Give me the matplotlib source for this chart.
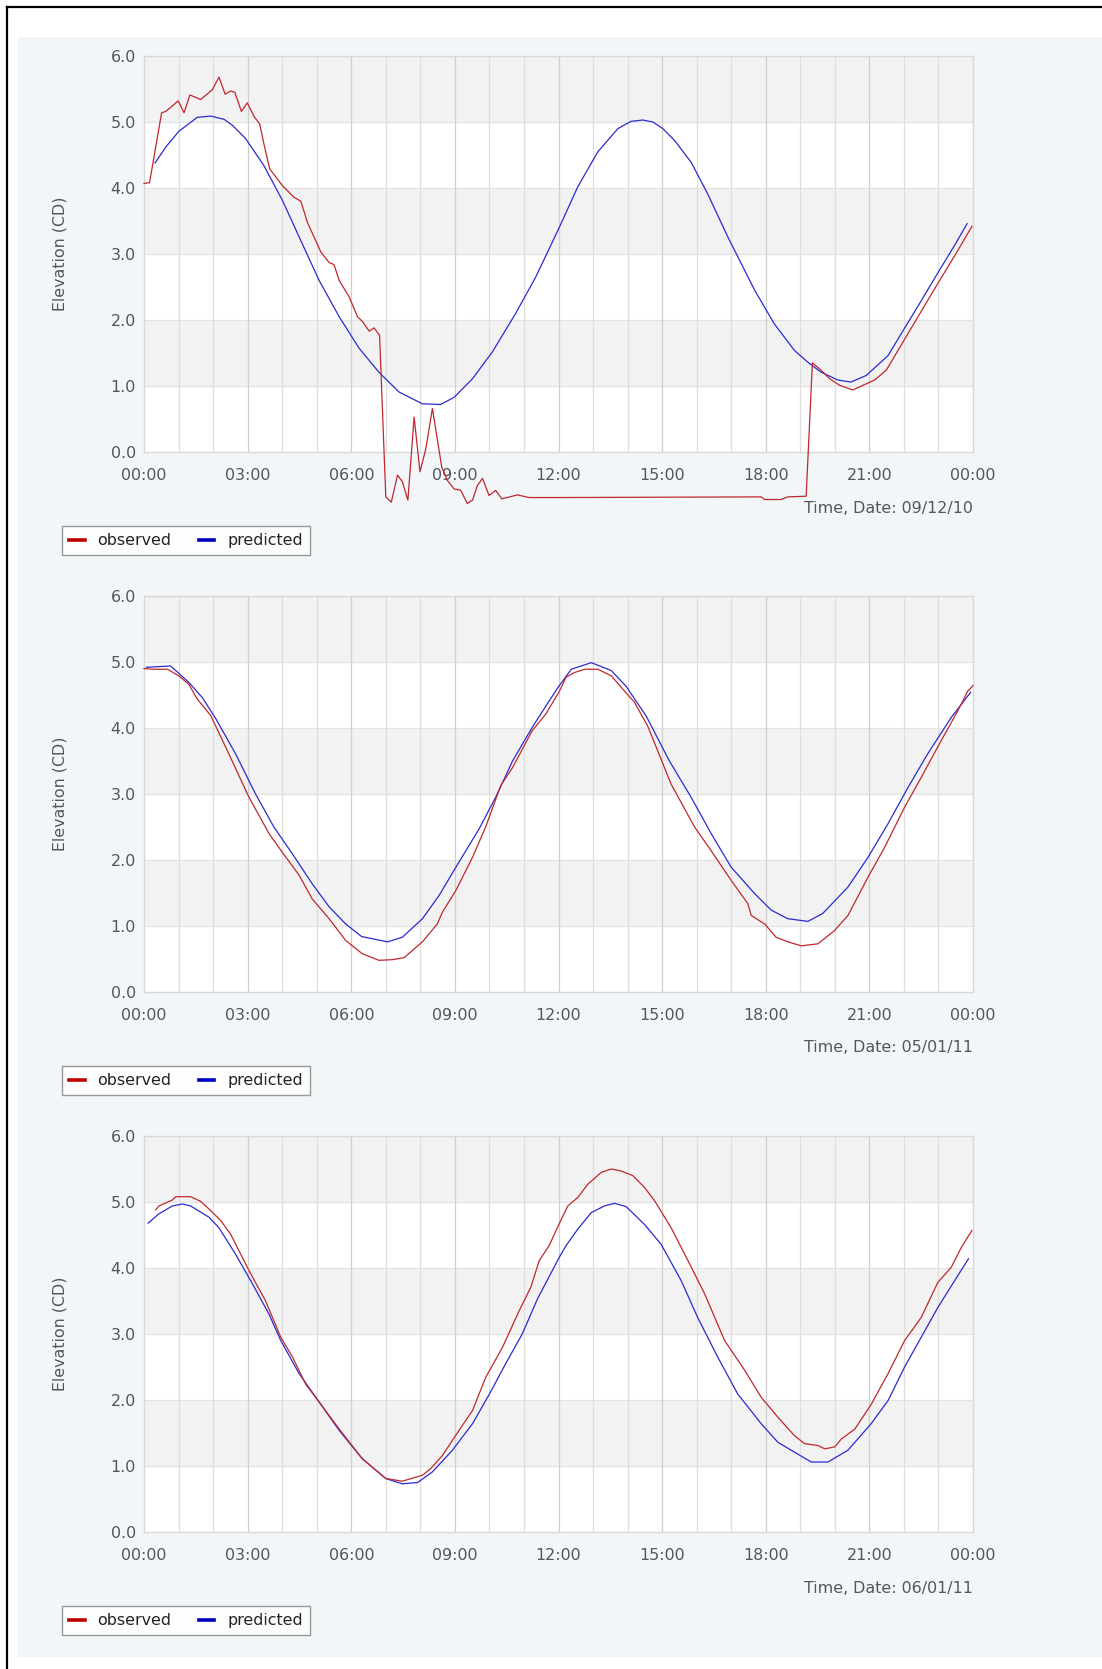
import matplotlib

matplotlib.use("Agg")
import matplotlib.pyplot as plt
from matplotlib.lines import Line2D
from matplotlib.patches import Rectangle

plt.rcParams["font.family"] = ["DejaVu Sans"]

W, H, DPI = 1102, 1669, 100
FS = 11.4

RED = "#c0272d"
BLUE = "#2a2ad0"
TEXT = "#555555"

TICK_HOURS = [0, 3, 6, 9, 12, 15, 18, 21, 24]
TICK_LABELS = ["00:00", "03:00", "06:00", "09:00", "12:00", "15:00", "18:00", "21:00", "00:00"]
Y_TICKS = [0.0, 1.0, 2.0, 3.0, 4.0, 5.0, 6.0]
DATES = ["09/12/10", "05/01/11", "06/01/11"]

# --- 09/12/10 ---
obs1_h = [0.0, 0.16, 0.51, 0.63, 0.99, 1.16, 1.33, 1.64, 1.98, 2.17, 2.35, 2.51, 2.63,
          2.82, 2.99, 3.19, 3.35, 3.47, 3.64, 4.0, 4.34, 4.54, 4.73, 5.12, 5.36, 5.5,
          5.65, 5.94, 6.18, 6.32, 6.52, 6.66, 6.82, 7.0, 7.16, 7.34, 7.48, 7.64, 7.82,
          7.99, 8.16, 8.35, 8.62, 8.78, 8.98, 9.17, 9.36, 9.51, 9.65, 9.8, 9.99, 10.18,
          10.36, 10.81, 11.15, 12.0, 17.87, 17.97, 18.45, 18.64, 19.17, 19.35, 19.6,
          19.85, 20.14, 20.52, 20.81, 21.15, 21.49, 22.0, 22.5, 23.0, 23.5, 23.97]
obs1_v = [4.07, 4.08, 5.14, 5.16, 5.32, 5.14, 5.41, 5.34, 5.49, 5.68, 5.42, 5.47, 5.45,
          5.16, 5.29, 5.08, 4.97, 4.67, 4.29, 4.04, 3.86, 3.8, 3.48, 3.03, 2.87, 2.84,
          2.6, 2.35, 2.05, 1.98, 1.83, 1.88, 1.77, -0.68, -0.76, -0.35, -0.45, -0.73, 0.53,
          -0.3, 0.05, 0.66, -0.23, -0.43, -0.56, -0.58, -0.78, -0.73, -0.51, -0.4, -0.66,
          -0.58, -0.71, -0.65, -0.69, -0.69, -0.68, -0.72, -0.72, -0.68, -0.67, 1.35, 1.24,
          1.11, 1.01, 0.94, 1.01, 1.09, 1.24, 1.69, 2.13, 2.57, 3.0, 3.42]
pred1_h = [0.32, 0.63, 1.01, 1.54, 1.93, 2.32, 2.56, 2.94, 3.47, 4.01, 4.49, 5.07, 5.65,
           6.23, 6.8, 7.38, 8.06, 8.59, 8.98, 9.51, 10.09, 10.76, 11.34, 12.02, 12.56,
           13.14, 13.72, 14.1, 14.44, 14.73, 15.02, 15.36, 15.84, 16.32, 16.9, 17.68,
           18.25, 18.83, 19.22, 19.6, 20.09, 20.47, 20.91, 21.54, 22.0, 22.5, 23.0, 23.5,
           23.83]
pred1_v = [4.38, 4.62, 4.86, 5.07, 5.09, 5.04, 4.95, 4.75, 4.34, 3.81, 3.26, 2.6, 2.05,
           1.57, 1.21, 0.91, 0.73, 0.72, 0.83, 1.11, 1.52, 2.1, 2.65, 3.4, 4.02, 4.55,
           4.9, 5.01, 5.03, 5.0, 4.9, 4.72, 4.39, 3.91, 3.26, 2.45, 1.94, 1.54, 1.36, 1.21,
           1.09, 1.06, 1.16, 1.46, 1.86, 2.29, 2.73, 3.16, 3.46]

# --- 05/01/11 ---
obs2_h = [0.0, 0.29, 0.68, 1.01, 1.3, 1.54, 1.93, 2.41, 3.04, 3.62, 4.0, 4.49, 4.87,
          5.36, 5.84, 6.32, 6.8, 7.19, 7.53, 8.06, 8.49, 8.64, 9.03, 9.51, 9.89, 10.33,
          10.67, 11.24, 11.63, 12.02, 12.22, 12.46, 12.75, 13.14, 13.53, 13.91, 14.2,
          14.59, 15.26, 15.94, 16.42, 17.0, 17.48, 17.58, 17.97, 18.3, 18.64, 19.03,
          19.51, 19.99, 20.38, 20.96, 21.44, 22.02, 22.5, 23.08, 23.56, 23.85, 24.0]
obs2_v = [4.9, 4.89, 4.89, 4.79, 4.66, 4.44, 4.19, 3.66, 2.95, 2.4, 2.12, 1.77, 1.41,
          1.11, 0.78, 0.58, 0.48, 0.49, 0.52, 0.76, 1.03, 1.21, 1.54, 2.04, 2.5, 3.13,
          3.4, 3.96, 4.21, 4.55, 4.77, 4.84, 4.89, 4.89, 4.79, 4.56, 4.39, 4.02, 3.15,
          2.5, 2.14, 1.69, 1.34, 1.16, 1.03, 0.83, 0.76, 0.7, 0.73, 0.93, 1.16, 1.74,
          2.19, 2.8, 3.25, 3.81, 4.26, 4.56, 4.64]
pred2_h = [0.07, 0.77, 0.92, 1.3, 1.69, 2.08, 2.65, 3.23, 3.76, 4.3, 4.87, 5.36, 5.84,
           6.3, 7.05, 7.48, 8.06, 8.54, 9.12, 9.7, 10.18, 10.67, 11.24, 11.73, 12.02,
           12.37, 12.95, 13.53, 13.96, 14.54, 15.21, 15.84, 16.42, 17.0, 17.68, 18.16,
           18.64, 19.22, 19.65, 20.38, 20.96, 21.54, 22.12, 22.69, 23.37, 23.93]
pred2_v = [4.92, 4.94, 4.87, 4.69, 4.46, 4.14, 3.61, 3.0, 2.5, 2.09, 1.64, 1.29, 1.03,
           0.84, 0.76, 0.83, 1.11, 1.46, 1.97, 2.47, 2.95, 3.5, 4.01, 4.41, 4.64, 4.89,
           4.99, 4.87, 4.63, 4.18, 3.5, 2.95, 2.4, 1.89, 1.49, 1.24, 1.11, 1.07, 1.19,
           1.59, 2.04, 2.55, 3.1, 3.61, 4.16, 4.54]

# --- 06/01/11 ---
obs3_h = [0.34, 0.43, 0.82, 0.92, 1.35, 1.64, 1.93, 2.22, 2.51, 3.04, 3.52, 3.96, 4.3,
          4.68, 5.07, 5.65, 6.32, 7.0, 7.48, 8.06, 8.3, 8.64, 9.12, 9.51, 9.89, 10.38,
          10.86, 11.2, 11.44, 11.73, 12.02, 12.27, 12.56, 12.85, 13.24, 13.53, 13.81,
          14.15, 14.49, 14.78, 15.26, 15.75, 16.23, 16.81, 17.39, 17.87, 18.35, 18.83,
          19.12, 19.51, 19.71, 20.0, 20.19, 20.58, 21.06, 21.54, 22.02, 22.5, 22.98,
          23.37, 23.66, 23.97]
obs3_v = [4.88, 4.94, 5.03, 5.08, 5.08, 5.01, 4.87, 4.72, 4.51, 3.96, 3.5, 2.95, 2.65,
          2.24, 1.97, 1.56, 1.11, 0.81, 0.77, 0.86, 0.96, 1.16, 1.54, 1.84, 2.34, 2.8,
          3.35, 3.71, 4.11, 4.34, 4.67, 4.94, 5.07, 5.27, 5.45, 5.5, 5.47, 5.4, 5.22,
          5.02, 4.61, 4.11, 3.61, 2.9, 2.45, 2.04, 1.74, 1.46, 1.34, 1.31, 1.26, 1.29,
          1.41, 1.56, 1.94, 2.4, 2.9, 3.25, 3.78, 4.01, 4.31, 4.57]
pred3_h = [0.12, 0.43, 0.82, 1.11, 1.35, 1.88, 2.17, 2.65, 3.14, 3.62, 3.96, 4.49, 5.07,
           5.65, 6.32, 7.0, 7.48, 7.92, 8.35, 8.93, 9.51, 10.0, 10.47, 10.95, 11.39,
           12.02, 12.22, 12.56, 12.95, 13.33, 13.62, 13.96, 14.49, 14.97, 15.55, 16.03,
           16.61, 17.19, 17.87, 18.35, 18.83, 19.32, 19.8, 20.38, 21.05, 21.54, 22.02,
           22.5, 22.98, 23.47, 23.87]
pred3_v = [4.68, 4.82, 4.94, 4.97, 4.94, 4.77, 4.61, 4.21, 3.76, 3.3, 2.9, 2.4, 1.97,
           1.54, 1.11, 0.81, 0.73, 0.75, 0.91, 1.24, 1.64, 2.09, 2.55, 3.0, 3.53, 4.16,
           4.34, 4.59, 4.84, 4.94, 4.98, 4.93, 4.66, 4.36, 3.81, 3.25, 2.65, 2.09, 1.64,
           1.36, 1.21, 1.06, 1.06, 1.24, 1.64, 1.99, 2.5, 2.95, 3.4, 3.81, 4.14]

OBSERVED = [(obs1_h, obs1_v), (obs2_h, obs2_v), (obs3_h, obs3_v)]
PREDICTED = [(pred1_h, pred1_v), (pred2_h, pred2_v), (pred3_h, pred3_v)]

# plot area in pixels
PLOT_LEFT, PLOT_RIGHT = 144, 973
PLOT_TOPS = [56, 596, 1136]
PLOT_HEIGHT = 396

fig = plt.figure(figsize=(W / DPI, H / DPI), dpi=DPI)
fig.patch.set_facecolor("white")

# light background panel and black frame
fig.add_artist(Rectangle((18 / W, 1 - 1657 / H), (W - 18) / W, (1657 - 37) / H,
                         transform=fig.transFigure, facecolor="#f3f6f9",
                         edgecolor="none", zorder=-10))
fig.add_artist(Line2D([7 / W, 7 / W], [0, 1 - 7 / H], transform=fig.transFigure,
                      color="black", lw=1.6))
fig.add_artist(Line2D([7 / W, 1], [1 - 7 / H, 1 - 7 / H], transform=fig.transFigure,
                      color="black", lw=1.6))


def draw_panel(i):
    top = PLOT_TOPS[i]
    ax = fig.add_axes([PLOT_LEFT / W, 1 - (top + PLOT_HEIGHT) / H,
                       (PLOT_RIGHT - PLOT_LEFT) / W, PLOT_HEIGHT / H])
    ax.set_facecolor("white")
    for lo in (1, 3, 5):
        ax.axhspan(lo, lo + 1, color="#f2f2f2", lw=0, zorder=0)
    for y in range(1, 6):
        ax.axhline(y, color="#e3e3e3", lw=0.9, zorder=1)
    for h in range(1, 24):
        ax.axvline(h, color="#cfcfcf" if h % 3 == 0 else "#dedede", lw=0.9, zorder=1)

    ph, pv = PREDICTED[i]
    oh, ov = OBSERVED[i]
    ax.plot(ph, pv, color=BLUE, lw=0.9, zorder=3)
    ax.plot(oh, ov, color=RED, lw=0.9, zorder=4, clip_on=False)

    ax.set_xlim(0, 24)
    ax.set_ylim(0, 6)
    ax.set_xticks(TICK_HOURS)
    ax.set_xticklabels(TICK_LABELS)
    ax.set_yticks(Y_TICKS)
    ax.set_yticklabels([f"{v:.1f}" for v in Y_TICKS])
    ax.tick_params(axis="x", length=0, pad=11.5, labelsize=FS, labelcolor=TEXT)
    ax.tick_params(axis="y", length=0, pad=6, labelsize=FS, labelcolor=TEXT)
    for s in ax.spines.values():
        s.set_color("#d8d8d8")
        s.set_linewidth(1.0)

    mid = 1 - (top + PLOT_HEIGHT / 2) / H
    fig.text(60 / W, mid, "Elevation (CD)", rotation=90, ha="center", va="center",
             color=TEXT, fontsize=FS)
    fig.text(PLOT_RIGHT / W, 1 - (top + 452) / H, "Time, Date: " + DATES[i],
             ha="right", va="center", color=TEXT, fontsize=FS)

    handles = [Line2D([], [], color="#c00000", lw=2.6),
               Line2D([], [], color="#0000c0", lw=2.6)]
    leg = ax.legend(handles, ["observed", "predicted"], loc="upper left",
                    bbox_to_anchor=(62 / W, 1 - (top + 470) / H),
                    bbox_transform=fig.transFigure, ncol=2, fontsize=FS,
                    frameon=True, fancybox=False, handlelength=1.0,
                    handletextpad=0.8, columnspacing=1.7, borderpad=0.45,
                    borderaxespad=0)
    leg.get_frame().set_edgecolor("#808080")
    leg.get_frame().set_linewidth(1.0)
    for t in leg.get_texts():
        t.set_color("#222222")


for i in range(3):
    draw_panel(i)

fig.savefig("out.png", dpi=DPI)
